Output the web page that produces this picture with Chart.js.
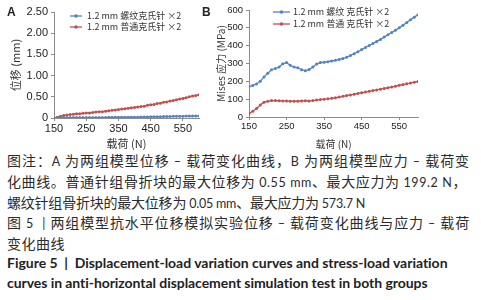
<!DOCTYPE html>
<html><head><meta charset="utf-8">
<script src="https://cdn.jsdelivr.net/npm/chart.js@4/dist/chart.umd.min.js"></script>
<style>
html,body{margin:0;padding:0;background:#fff;width:481px;height:300px;overflow:hidden;}
#wrap{position:relative;width:481px;height:300px;}
canvas{position:absolute;top:0;}
#cA{left:0;} #cB{left:200px;}
.pl{position:absolute;font:bold 12px "Liberation Sans",Arial,sans-serif;color:#222;}
.ln{position:absolute;left:7px;white-space:nowrap;line-height:20px;height:20px;}
.zh{font-family:"Noto Sans CJK SC",sans-serif;font-size:14px;color:#2b2b2b;}
.zh .lt{font-family:Lato,"Liberation Sans",sans-serif;font-size:12.5px;}
.en{font-family:Lato,"Liberation Sans",sans-serif;font-weight:bold;font-size:14px;color:#222;}
</style></head>
<body><div id="wrap">
<canvas id="cA" width="204" height="150"></canvas>
<canvas id="cB" width="230" height="150"></canvas>
<div class="pl" style="left:7px;top:5px">A</div>
<div class="pl" style="left:202px;top:5px">B</div>
<div class="ln zh" data-w="463" style="top:150px">图注：<span class="lt">A </span>为两组模型位移<span class="lt"> – </span>载荷变化曲线，<span class="lt">B </span>为两组模型应力<span class="lt"> – </span>载荷变</div>
<div class="ln zh" data-w="460" style="top:171px">化曲线。普通针组骨折块的最大位移为<span class="lt"> 0.55 mm</span>、最大应力为<span class="lt"> 199.2 N</span>，</div>
<div class="ln zh" data-w="358" style="top:192px">螺纹针组骨折块的最大位移为<span class="lt"> 0.05 mm</span>、最大应力为<span class="lt"> 573.7 N</span></div>
<div class="ln zh" data-w="463" style="top:212px">图<span class="lt"> 5 &nbsp;| </span>两组模型抗水平位移模拟实验位移<span class="lt"> – </span>载荷变化曲线与应力<span class="lt"> – </span>载荷</div>
<div class="ln zh" data-w="58" style="top:233px">变化曲线</div>
<div class="ln en" data-w="441" style="top:253px">Figure 5 &nbsp;| &nbsp;Displacement-load variation curves and stress-load variation</div>
<div class="ln en" data-w="421" style="top:273px">curves in anti-horizontal displacement simulation test in both groups</div>
</div>
<script>
// ---- data ----
const loads = [150,160,170,180,190,200,210,220,230,240,250,260,270,280,290,300,310,320,330,340,350,360,370,380,390,400,410,420,430,440,450,460,470,480,490,500,510,520,530,540,550,560,570,580,590,600];
const dispThread = [0.00,0.005,0.01,0.01,0.01,0.01,0.01,0.01,0.01,0.01,0.01,0.01,0.01,0.01,0.01,0.01,0.01,0.015,0.015,0.015,0.015,0.02,0.02,0.02,0.02,0.02,0.02,0.025,0.025,0.025,0.03,0.03,0.03,0.03,0.035,0.035,0.035,0.04,0.04,0.04,0.04,0.045,0.045,0.045,0.05,0.05];
const dispNormal = [0.00,0.02,0.04,0.06,0.07,0.08,0.09,0.10,0.10,0.11,0.12,0.12,0.13,0.14,0.15,0.15,0.16,0.17,0.18,0.19,0.20,0.21,0.22,0.23,0.24,0.25,0.26,0.27,0.28,0.30,0.31,0.32,0.34,0.35,0.37,0.38,0.40,0.41,0.43,0.45,0.46,0.48,0.50,0.52,0.53,0.55];
const stressThread = [170,177,185,200,225,245,265,272,280,298,305,290,280,276,265,260,266,280,297,305,307,310,314,318,323,328,335,345,355,366,378,390,401,412,424,435,448,461,474,487,500,515,530,545,560,573.7];
const stressNormal = [20,32,48,67,83,88,92,92,91,90,90,89,89,89,90,91,90,92,95,98,100,102,105,108,112,116,120,124,128,132,136,140,144,148,152,156,160,164,168,173,178,182,186,190,195,199.2];
const xTicks = [150,250,350,450,550];
const yTicksA = [0,0.5,1,1.5,2,2.5];
const yTicksB = [0,100,200,300,400,500,600];
const seriesLabelsA = ['1.2 mm 螺纹克氏针 ×2','1.2 mm 普通克氏针 ×2'];
const seriesLabelsB = ['1.2 mm 螺纹 克氏针 ×2','1.2 mm 普通 克氏针 ×2'];
const xTitle = '载荷 (N)';
const yTitleA = '位移 (mm)';
const yTitleB = 'Mises 应力 (MPa)';

const BLUE = '#5283c4', RED = '#c0504d', AXIS = '#8c8c8c';

const legendPlugin = {
  id:'customLegend',
  afterDraw(chart, args, o){
    const ctx = chart.ctx;
    chart.data.datasets.forEach((ds,i)=>{
      const y = o.y + i*o.dy;
      ctx.save();
      ctx.strokeStyle = ds.borderColor; ctx.lineWidth = 1.3;
      ctx.beginPath(); ctx.moveTo(o.x, y); ctx.lineTo(o.x+o.len, y); ctx.stroke();
      ctx.fillStyle = ds.borderColor; ctx.beginPath(); ctx.arc(o.x+o.len/2, y, 1.8, 0, Math.PI*2); ctx.fill();
      ctx.fillStyle = '#333'; ctx.font = o.font; ctx.textBaseline = 'middle';
      ctx.fillText(ds.label, o.x+o.len+o.gap, y);
      ctx.restore();
    });
  }
};

function ds(label, vals, color){
  return {label, data: loads.map((x,i)=>({x, y: vals[i]})), borderColor: color, backgroundColor: color,
    borderWidth: 1.3, pointRadius: 1.5, pointBorderWidth: 0, pointBackgroundColor: color, tension: 0};
}

function makeChart(id, cfg){
  return new Chart(document.getElementById(id), {
    type:'line',
    data:{datasets: cfg.datasets},
    plugins:[legendPlugin],
    options:{
      responsive:false, animation:false, devicePixelRatio:1,
      layout:{padding:cfg.padding},
      plugins:{legend:{display:false}, tooltip:{enabled:false}, customLegend: cfg.legend},
      scales:{
        x:{type:'linear', min:150, max:600,
          afterBuildTicks: s => { s.ticks = xTicks.map(v=>({value:v})); },
          afterFit: s => { s.height = cfg.xh; },
          grid:{display:true, drawOnChartArea:false, drawTicks:true, tickLength:3, color:AXIS},
          border:{display:true, color:AXIS, width:1},
          ticks:{autoSkip:false, maxRotation:0, padding:1, color:'#222', font:{family:'"Liberation Sans", Arial, sans-serif', size:cfg.tickSize}},
          title:{display:true, text:xTitle, color:'#333', padding:{top:0,bottom:0}, font:{family:'"Noto Sans CJK SC", sans-serif', size:cfg.titleSize}}
        },
        y:{type:'linear', min:cfg.ymin, max:cfg.ymax,
          afterBuildTicks: s => { s.ticks = cfg.yTicks.map(v=>({value:v})); },
          afterFit: s => { s.width = cfg.yw; },
          grid:{display:true, drawOnChartArea:false, drawTicks:true, tickLength:3, color:AXIS},
          border:{display:true, color:AXIS, width:1},
          ticks:{padding:cfg.ypad, color:'#222', font:{family:'"Liberation Sans", Arial, sans-serif', size:cfg.tickSize}, callback: cfg.yfmt},
          title:{display:true, text:cfg.yTitle, color:'#333', padding:{top:cfg.ytp,bottom:0}, font:{family:'"Noto Sans CJK SC", sans-serif', size:cfg.titleSize}}
        }
      }
    }
  });
}

makeChart('cA', {
  datasets:[ds(seriesLabelsA[0], dispThread, BLUE), ds(seriesLabelsA[1], dispNormal, RED)],
  padding:{left:0,right:5,top:12,bottom:0}, xh:32, yw:54, ypad:3, ytp:9,
  tickSize:11, titleSize:11, ymin:0, ymax:2.5, yTicks:yTicksA, yTitle:yTitleA,
  yfmt: v => v===0 ? '0' : v.toFixed(2),
  legend:{x:70, y:16, dy:11, len:12, gap:5, font:'9px "Noto Sans CJK SC", sans-serif'}
});
makeChart('cB', {
  datasets:[ds(seriesLabelsB[0], stressThread, BLUE), ds(seriesLabelsB[1], stressNormal, RED)],
  padding:{left:0,right:12,top:10,bottom:0}, xh:33, yw:49, ypad:3, ytp:15,
  tickSize:9.5, titleSize:10, ymin:0, ymax:600, yTicks:yTicksB, yTitle:yTitleB,
  yfmt: v => String(v),
  legend:{x:73, y:12, dy:12, len:17, gap:3, font:'9px "Noto Sans CJK SC", sans-serif'}
});

// fit caption lines to the reference widths
document.querySelectorAll('.ln').forEach(el=>{
  const target = +el.dataset.w;
  const w = el.getBoundingClientRect().width;
  const n = el.textContent.length;
  el.style.letterSpacing = ((target - w)/n) + 'px';
});
</script>
</body></html>
